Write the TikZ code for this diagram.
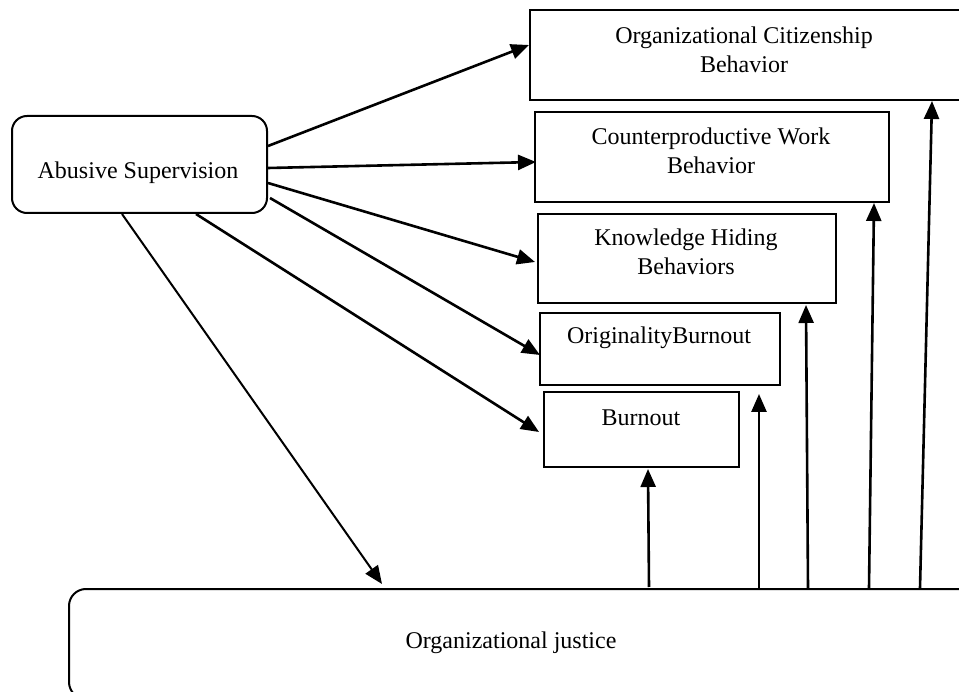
\documentclass[tikz,border=0pt]{standalone}
\usepackage{fontspec}
\setmainfont{Liberation Serif}
\usetikzlibrary{arrows.meta,calc}
\begin{document}
\begin{tikzpicture}[x=1pt,y=-1pt,
  box/.style={draw,line width=2pt,inner sep=0pt,anchor=north west},
  rbox/.style={box,rounded corners=15pt},
  lbl/.style={inner sep=0pt,align=center,font=\fontsize{24}{29}\selectfont,anchor=north},
  arr/.style={line width=2.6pt,-{Triangle[length=18pt,width=15pt]}},
  thinarr/.style={arr,line width=2pt}
]
\useasboundingbox (0,0) rectangle (959,692);

% boxes
\node[box,minimum width=440pt,minimum height=90pt] (ocb) at (529,9) {};
\node[box,minimum width=354pt,minimum height=90pt] (cwb) at (534,111) {};
\node[box,minimum width=298pt,minimum height=89pt] (khb) at (537,213) {};
\node[box,minimum width=240pt,minimum height=72pt] (orig) at (539,312) {};
\node[box,minimum width=195pt,minimum height=75pt] (burn) at (543,391) {};
\node[rbox,minimum width=255pt,minimum height=97pt] (as) at (11,115) {};
\node[rbox,rounded corners=17pt,minimum width=906pt,minimum height=110pt] (oj) at (68,588) {};

% texts
\node[lbl] (ocbt) at (744,26.6) {Organizational Citizenship\\Behavior};
\node[lbl] (cwbt) at (711,127.6) {Counterproductive Work\\Behavior};
\node[lbl] (khbt) at (686,228.6) {Knowledge Hiding\\Behaviors};
\node[lbl] (origt) at (659,326.6) {OriginalityBurnout};
\node[lbl] (burnt) at (641,409.1) {Burnout};
\node[lbl] (ast) at (138,161.6) {Abusive Supervision};
\node[lbl] (ojt) at (511,631.6) {Organizational justice};

% arrows from Abusive Supervision
\draw[arr] ($(as.north east)+(0,31)$) -- ($(ocb.north west)+(0,36)$);
\draw[arr] ($(as.north east)+(0,53)$) -- ($(cwb.north west)+(2,51)$);
\draw[arr] ($(as.north east)+(0,68)$) -- ($(khb.north west)+(-2,49)$);
\draw[arr] ($(as.north east)+(2,83)$) -- ($(orig.north west)+(1,43)$);
\draw[arr] ($(as.south west)+(185,0)$) -- ($(burn.north west)+(-4,41)$);
\draw[thinarr] ($(as.south west)+(111,0)$) -- ($(oj.north west)+(314,-4)$);

% vertical arrows from Organizational justice
\coordinate (free) at (759,394);
\draw[arr] ($(oj.north west)+(581,-1)$) -- ($(burn.south west)+(105,1)$);
\draw[arr] ($(oj.north west)+(691,0)$) -- (free);
\draw[arr] ($(oj.north west)+(740,0)$) -- ($(khb.south west)+(269,1)$);
\draw[arr] ($(oj.north west)+(801,0)$) -- ($(cwb.south west)+(340,0)$);
\draw[arr] ($(oj.north west)+(852,0)$) -- ($(ocb.south west)+(403,0)$);
\end{tikzpicture}
\end{document}
